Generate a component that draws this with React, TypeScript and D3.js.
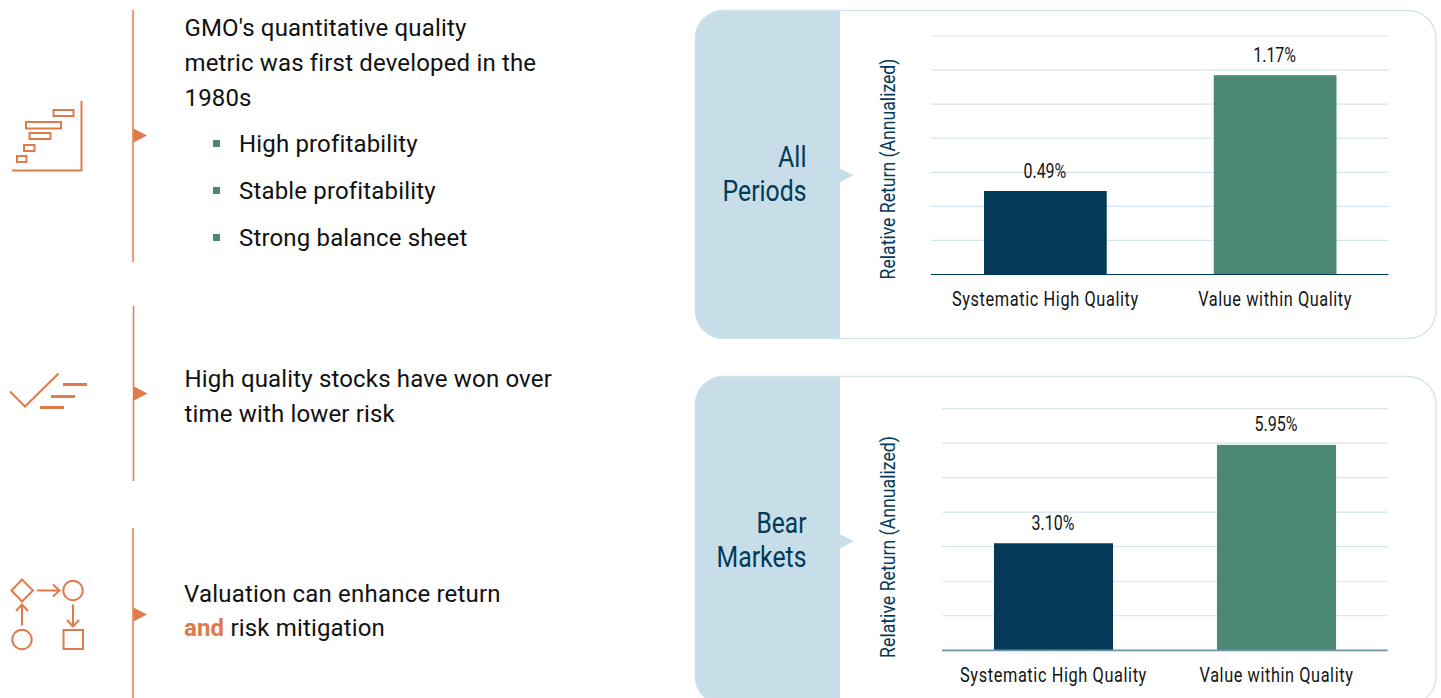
import React, { useLayoutEffect, useRef } from "react";
import * as d3 from "d3";

const categories = ["Systematic High Quality", "Value within Quality"];
const allPeriodValues = [0.49, 1.17];
const bearMarketValues = [3.1, 5.95];
const allPeriodTicks = [0, 0.2, 0.4, 0.6, 0.8, 1.0, 1.2, 1.4];
const bearMarketTicks = [0, 1, 2, 3, 4, 5, 6, 7];
const barColors = ["#023a58", "#4a8775"];
const bullets = ["High profitability", "Stable profitability", "Strong balance sheet"];

const ORANGE = "#df7b4b";
const NAVY = "#023a58";
const PANEL = "#c7dee9";
const GRID = "#d5e5ee";
const INK = "#141414";
const SANS = "Roboto, sans-serif";

const catWidths = [187, 154];

// Roboto Condensed is not installed: text is drawn in Roboto and narrowed to the measured width.
function Narrow(props: { at: string; w: number; size: number; fill: string; anchor: string; spacing?: number; children: React.ReactNode }) {
  const { at, w, size, fill, anchor, spacing, children } = props;
  return (
    <text data-fit={w} data-base={at} transform={at} textAnchor={anchor} fontFamily={SANS} fontSize={size} fill={fill}
      letterSpacing={spacing ?? 0}>{children}</text>
  );
}

function Card(props: {
  top: number; title: string[]; titleWidths: number[]; values: number[]; ticks: number[];
  gridX: [number, number]; bandX: [number, number]; yRange: [number, number]; domainMax: number;
  titleY: number[]; yTitleCy: number; yTitleW: number; catY: number; axisColor: string; axisWidth: number;
}) {
  const { top, title, titleWidths, values, ticks, gridX, bandX, yRange, domainMax, titleY, yTitleCy, yTitleW, catY, axisColor, axisWidth } = props;
  const h = 328;
  const x = d3.scaleBand<string>().domain(categories).range(bandX).paddingInner(0.466).paddingOuter(0.233);
  const y = d3.scaleLinear().domain([0, domainMax]).range(yRange);
  const clipId = "clip" + Math.round(top);
  return (
    <g>
      <clipPath id={clipId}><rect x={695} y={top} width={741} height={h} rx={28} /></clipPath>
      <rect x={695.5} y={top} width={740.5} height={h} rx={28} fill="#fff" stroke={GRID} strokeWidth={1.4} />
      <rect x={695} y={top} width={145} height={h} fill={PANEL} clipPath={`url(#${clipId})`} />
      <path d={d3.line()([[840, top + 158], [853.5, top + 164.5], [840, top + 172]]) + "Z"} fill={PANEL} />
      {title.map((t, i) => (
        <Narrow key={t} at={`translate(806.5,${titleY[i]})`} w={titleWidths[i]} size={30} fill={NAVY} anchor="end">{t}</Narrow>
      ))}
      <Narrow at={`translate(895,${yTitleCy}) rotate(-90)`} w={yTitleW} size={19.5} fill={NAVY} anchor="middle">Relative Return (Annualized)</Narrow>
      {ticks.slice(1).map((t) => (
        <line key={t} x1={gridX[0]} x2={gridX[1]} y1={y(t)} y2={y(t)} stroke={GRID} strokeWidth={1.2} />
      ))}
      {categories.map((c, i) => {
        const cx = x(c)! + x.bandwidth() / 2;
        return (
          <g key={c}>
            <rect x={x(c)} width={x.bandwidth()} y={y(values[i])} height={y(0) - y(values[i])} fill={barColors[i]} />
            <Narrow at={`translate(${cx - 0.5},${y(values[i]) - 13.5})`} w={43} size={19.5} fill={INK} anchor="middle">{d3.format(".2f")(values[i])}%</Narrow>
            <Narrow at={`translate(${cx},${catY})`} w={catWidths[i]} size={19.5} fill={INK} anchor="middle" spacing={0.7}>{c}</Narrow>
          </g>
        );
      })}
      <line x1={gridX[0]} x2={gridX[1]} y1={y(0)} y2={y(0)} stroke={axisColor} strokeWidth={axisWidth} />
    </g>
  );
}

function Divider({ x, y1, y2, ty }: { x: number; y1: number; y2: number; ty: number }) {
  return (
    <g>
      <line x1={x} x2={x} y1={y1} y2={y2} stroke={ORANGE} strokeWidth={1.5} />
      <path d={`M${x + 0.5} ${ty - 7}L${x + 14} ${ty}L${x + 0.5} ${ty + 7}Z`} fill={ORANGE} />
    </g>
  );
}

const iconRects = [[53.5, 110, 20, 6], [26, 122, 35, 6.5], [29.5, 133, 21, 6], [24, 145, 10.5, 6], [17, 156, 9.5, 6]];

function Icons() {
  return (
    <g fill="none" stroke={ORANGE} strokeWidth={2}>
      <path d="M81.5 101V170.5H12" />
      {iconRects.map(([x, y, w, h]) => <rect key={x} x={x} y={y} width={w} height={h} />)}
      <path d="M10 391.5L25 406.5L58.5 373.5" />
      <g strokeWidth={3}>
        <path d="M63 384.5H87M51 396.5H75M40 407.5H64" />
      </g>
      <path d="M22 579.5L33 590.5L22 601.5L11.5 590.5Z" />
      <path d="M37 590.5H59M53 584.5L59.5 590.5L53 596.5" />
      <circle cx={73} cy={590.5} r={9.7} />
      <path d="M73 604.5V626M67 620L73 626.5L79 620" />
      <rect x={63.5} y={630} width={19.5} height={19} />
      <circle cx={22} cy={639.5} r={9.7} />
      <path d="M22 625.5V605M16 611L22 604.5L28 611" />
    </g>
  );
}

export default function App() {
  const svgRef = useRef<SVGSVGElement>(null);
  useLayoutEffect(() => {
    d3.select(svgRef.current).selectAll<SVGTextElement, unknown>("text[data-fit]").each(function () {
      const target = +this.getAttribute("data-fit")!;
      const base = this.getAttribute("data-base")!;
      this.setAttribute("transform", `${base} scale(${target / this.getComputedTextLength()},1)`);
    });
  }, []);
  const t = { fontFamily: SANS, fontSize: 24, fill: "#111", letterSpacing: 0.16 };
  return (
    <svg ref={svgRef} width={1441} height={698} viewBox="0 0 1441 698" style={{ position: "absolute", left: 0, top: 0, display: "block", background: "#fff" }}>
      <Divider x={133} y1={10} y2={262} ty={135.5} />
      <Divider x={133.5} y1={306} y2={481} ty={393.5} />
      <Divider x={133} y1={528} y2={698} ty={614.5} />
      <Icons />
      <text {...t} x={184.5} y={36}>GMO's quantitative quality</text>
      <text {...t} x={184.5} y={71}>metric was first developed in the</text>
      <text {...t} x={184.5} y={106}>1980s</text>
      {bullets.map((b, i) => (
        <g key={b}>
          <rect x={213} y={140 + i * 47} width={7} height={7} fill="#4a8775" />
          <text {...t} x={239} y={152 + i * 47}>{b}</text>
        </g>
      ))}
      <text {...t} x={184.5} y={387}>High quality stocks have won over</text>
      <text {...t} x={184.5} y={422}>time with lower risk</text>
      <text {...t} x={184} y={602} letterSpacing={0.2}>Valuation can enhance return</text>
      <text {...t} x={184} y={636}><tspan fontWeight={700} fill={ORANGE}>and</tspan> risk mitigation</text>

      <Card top={10.5} title={["All", "Periods"]} titleWidths={[28.5, 84]} titleY={[167, 201]} values={allPeriodValues} ticks={allPeriodTicks}
        gridX={[931, 1388.5]} bandX={[930.5, 1390]} yRange={[274.5, 36]} domainMax={1.4} yTitleCy={169} yTitleW={221} catY={306}
        axisColor={NAVY} axisWidth={1.2} />
      <Card top={376.5} title={["Bear", "Markets"]} titleWidths={[50, 90]} titleY={[533, 567]} values={bearMarketValues} ticks={bearMarketTicks}
        gridX={[942, 1387.5]} bandX={[942, 1388]} yRange={[650.3, 408.6]} domainMax={7} yTitleCy={547} yTitleW={222} catY={682}
        axisColor="#6f93a8" axisWidth={1.8} />
    </svg>
  );
}
